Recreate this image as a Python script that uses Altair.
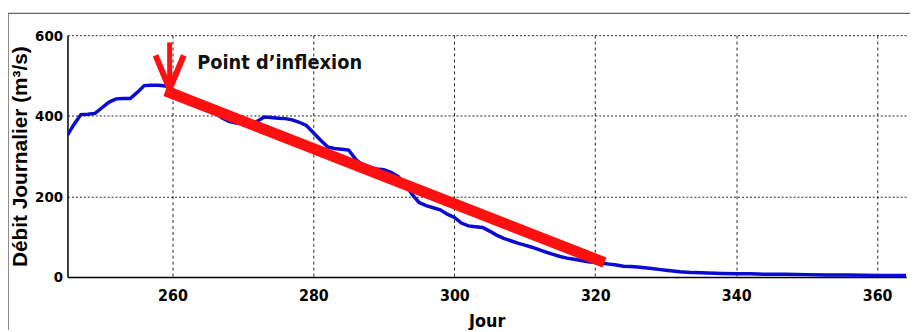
import altair as alt
import pandas as pd

# Daily discharge (blue series)
days = [245.1, 246, 247, 248, 249, 250, 251, 252, 253, 254, 255, 256, 257, 258, 259,
        260, 261, 262, 263, 264, 265, 266, 267, 268, 269, 270, 271, 272, 273, 274, 275,
        276, 277, 278, 279, 280, 281, 282, 283, 284, 285, 286, 287, 288, 289, 290, 291,
        292, 293, 294, 295, 296, 297, 298, 299, 300, 301, 302, 303, 304, 305, 306, 307,
        308, 309, 310, 311, 312, 313, 314, 315, 316, 317, 318, 319, 320, 321, 322, 323,
        324, 325, 326, 327, 328, 329, 330, 331, 332, 333, 334, 336, 338, 340, 342, 344,
        347, 350, 353, 356, 360, 364.5]
flow = [352, 378, 403, 404, 406, 420, 434, 442, 443, 443, 458, 475, 476, 476, 474,
        465, 455, 447, 440, 432, 422, 408, 395, 386, 382, 380, 380, 386, 397, 396, 394,
        393, 390, 384, 376, 358, 340, 323, 319, 317, 315, 292, 278, 272, 268, 266, 260,
        250, 232, 205, 185, 177, 172, 167, 156, 148, 134, 127, 125, 123, 114, 104, 96,
        90, 84, 79, 74, 68, 62, 56, 51, 47, 44, 41, 38, 36, 34, 32, 30,
        27, 26, 25, 23, 21, 19, 17, 15, 13, 12, 11, 10, 9, 8, 8, 7,
        7, 6, 5, 5, 4, 4]

# Recession line (red)
trend_days = [259.0, 321.3]
trend_flow = [462, 36]

# Arrow marking the inflection point
arrow_shaft_days = [259.6, 259.6]
arrow_shaft_flow = [582, 470]
arrow_head_days = [257.6, 259.6, 261.6]
arrow_head_flow = [550, 466, 550]

label_text = ["Point d\u2019inflexion"]
label_day = [263.5]
label_flow = [516]

x_ticks = [260, 280, 300, 320, 340, 360]
y_ticks = [0, 200, 400, 600]

XDOM = [245.1, 364.1]
YDOM = [0, 600]

xs = alt.Scale(domain=XDOM, nice=False, zero=False)
ys = alt.Scale(domain=YDOM, nice=False)

df = pd.DataFrame({"Jour": days, "Debit": flow})
df_trend = pd.DataFrame({"Jour": trend_days, "Debit": trend_flow})
df_shaft = pd.DataFrame({"Jour": arrow_shaft_days, "Debit": arrow_shaft_flow})
df_head = pd.DataFrame({"Jour": arrow_head_days, "Debit": arrow_head_flow,
                        "o": list(range(len(arrow_head_days)))})
df_label = pd.DataFrame({"Jour": label_day, "Debit": label_flow, "t": label_text})

FONT = "DejaVu Sans Condensed, Liberation Sans, sans-serif"

x_enc = alt.X("Jour:Q", scale=xs,
              axis=alt.Axis(values=x_ticks, title="Jour", grid=True,
                            gridDash=[3, 3], gridColor="#000", gridOpacity=0.85,
                            ticks=False, domainColor="#000", domainWidth=1.5,
                            labelFont=FONT, labelFontSize=16, labelFontWeight="bold",
                            labelColor="#000", labelPadding=11,
                            titleFont=FONT, titleFontSize=18, titleFontWeight="bold",
                            titleColor="#000", titlePadding=9))
y_enc = alt.Y("Debit:Q", scale=ys,
              axis=alt.Axis(values=y_ticks, title="Débit Journalier (m³/s)", grid=True,
                            gridDash=[2, 2], gridColor="#000", gridOpacity=0.85,
                            ticks=False, domainColor="#000", domainWidth=1.5,
                            labelFont=FONT, labelFontSize=15, labelFontWeight="bold",
                            labelColor="#000", labelPadding=5,
                            titleFont="Liberation Sans, Arial, sans-serif", titleFontSize=21,
                            titleFontWeight="bold", titleColor="#000",
                            titleX=-41, titleY=122, titleAngle=270,
                            titleAlign="center", titleBaseline="alphabetic"))

base = alt.Chart(df).mark_line(color="#0a0ad2", strokeWidth=3.5, clip=True).encode(
    x=x_enc, y=y_enc, order=alt.Order("Jour:Q"))

trend = alt.Chart(df_trend).mark_line(color="#ff1010", strokeWidth=11, strokeCap="butt").encode(
    x=alt.X("Jour:Q", scale=xs), y=alt.Y("Debit:Q", scale=ys))

shaft = alt.Chart(df_shaft).mark_line(color="#ff1010", strokeWidth=5).encode(
    x=alt.X("Jour:Q", scale=xs), y=alt.Y("Debit:Q", scale=ys))

head = alt.Chart(df_head).mark_line(color="#ff1010", strokeWidth=6, strokeJoin="miter").encode(
    x=alt.X("Jour:Q", scale=xs), y=alt.Y("Debit:Q", scale=ys), order="o:Q")

label = alt.Chart(df_label).mark_text(font=FONT, fontSize=20, fontWeight="bold",
                                      align="left", baseline="alphabetic", color="#111").encode(
    x=alt.X("Jour:Q", scale=xs), y=alt.Y("Debit:Q", scale=ys), text="t:N")

# Outer figure frame (grey)
frame_v = alt.Chart(df_label).mark_rule(color="#666", strokeWidth=1.5).encode(
    x=alt.value(-60), y=alt.value(-22), y2=alt.value(400))
frame_h = alt.Chart(df_label).mark_rule(color="#666", strokeWidth=1.5).encode(
    x=alt.value(-60), x2=alt.value(900), y=alt.value(-22))

chart = alt.layer(frame_v, frame_h, base, trend, shaft, head, label).properties(
    width=846, height=244,
    autosize=alt.AutoSizeParams(type="none"),
    padding={"left": 60, "top": 26, "right": 4, "bottom": 52},
    background="white",
).configure_view(stroke=None)

chart.save("out.html", embed_options={"renderer": "svg", "actions": False})
